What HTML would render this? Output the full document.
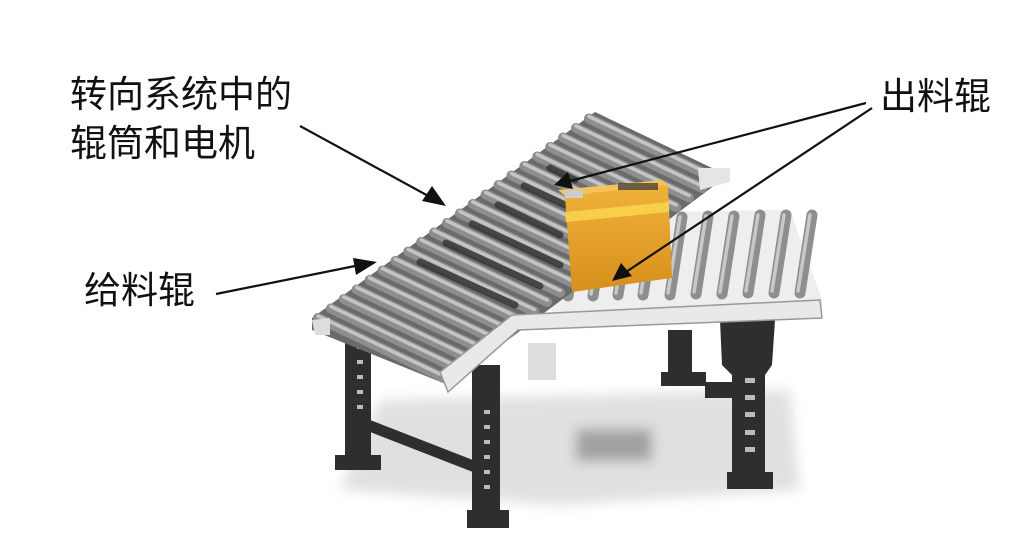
<!DOCTYPE html>
<html><head><meta charset="utf-8"><style>
body{margin:0;background:#fff;width:1032px;height:550px;overflow:hidden}
.t{position:absolute;font-family:"Liberation Sans","Noto Sans CJK SC",sans-serif;font-size:37px;color:#111;line-height:50px;white-space:nowrap}
</style></head><body>
<svg width="1032" height="550" style="position:absolute;left:0;top:0">
<defs>
<filter id="bl" x="-20%" y="-20%" width="140%" height="140%"><feGaussianBlur stdDeviation="6"/></filter>
<linearGradient id="box" x1="0" y1="0" x2="0" y2="1"><stop offset="0" stop-color="#f0b23a"/><stop offset="1" stop-color="#d68f1c"/></linearGradient>
<g id="ro">
<line x1="318" y1="318" x2="444" y2="378" stroke="#8e8e8e" stroke-width="10" stroke-linecap="round"/>
<line x1="318" y1="316" x2="444" y2="376" stroke="#c4c4c4" stroke-width="3.5" stroke-linecap="round"/>
</g>
<g id="ro2">
<line x1="0" y1="0" x2="-12" y2="78" stroke="#8e8e8e" stroke-width="11" stroke-linecap="round"/>
<line x1="-2" y1="0" x2="-14" y2="76" stroke="#c8c8c8" stroke-width="3.5" stroke-linecap="round"/>
</g>
</defs>
<!-- shadow -->
<g filter="url(#bl)" opacity="0.55">
<polygon points="380,400 790,390 800,490 560,505 340,490" fill="#c8c8c8"/>
<rect x="575" y="428" width="78" height="34" fill="#555"/>
</g>
<!-- legs -->
<g fill="#2e2e2e">
<rect x="345" y="333" width="26" height="130"/><rect x="335" y="455" width="46" height="15"/>
<polygon points="365,418 478,462 478,474 365,430"/>
<rect x="472" y="365" width="28" height="150"/><rect x="467" y="510" width="42" height="18"/>
<rect x="668" y="330" width="24" height="48"/><rect x="661" y="372" width="45" height="14"/>
<polygon points="720,320 775,320 772,365 765,375 765,478 732,478 732,375 722,365"/><rect x="727" y="472" width="46" height="17"/>
<rect x="705" y="382" width="30" height="16"/>
</g>
<g fill="#bbb"><rect x="357" y="345" width="6" height="4"/><rect x="357" y="360" width="6" height="4"/><rect x="357" y="375" width="6" height="4"/><rect x="357" y="390" width="6" height="4"/><rect x="357" y="405" width="6" height="4"/>
<rect x="484" y="410" width="6" height="4"/><rect x="484" y="425" width="6" height="4"/><rect x="484" y="440" width="6" height="4"/><rect x="484" y="455" width="6" height="4"/><rect x="484" y="470" width="6" height="4"/><rect x="484" y="485" width="6" height="4"/>
<rect x="745" y="378" width="10" height="5"/><rect x="745" y="395" width="10" height="5"/><rect x="745" y="412" width="10" height="5"/><rect x="745" y="430" width="10" height="5"/><rect x="745" y="447" width="10" height="5"/></g>
<rect x="528" y="343" width="28" height="37" fill="#ddd"/>
<!-- output conveyor -->
<polygon points="660,212 790,210 822,300 822,318 560,325 545,300" fill="#eeeeee"/>
<use href="#ro2" x="580" y="218"/><use href="#ro2" x="605" y="218"/><use href="#ro2" x="630" y="217"/><use href="#ro2" x="655" y="217"/>
<use href="#ro2" x="682" y="217"/><use href="#ro2" x="708" y="216"/><use href="#ro2" x="734" y="216"/><use href="#ro2" x="760" y="215"/><use href="#ro2" x="786" y="215"/><use href="#ro2" x="812" y="215"/>
<!-- main conveyor -->
<polygon points="312,318 595,112 712,168 715,185 448,385 312,330" fill="#6a6a6a"/>
<use href="#ro" x="0" y="0"/><use href="#ro" x="12.9" y="-9.5"/><use href="#ro" x="25.8" y="-19"/><use href="#ro" x="38.7" y="-28.5"/><use href="#ro" x="51.6" y="-38"/><use href="#ro" x="64.5" y="-47.5"/>
<use href="#ro" x="77.4" y="-57"/><use href="#ro" x="90.3" y="-66.5"/><use href="#ro" x="103.2" y="-76"/><use href="#ro" x="116.1" y="-85.5"/><use href="#ro" x="129" y="-95"/><use href="#ro" x="141.9" y="-104.5"/>
<use href="#ro" x="154.8" y="-114"/><use href="#ro" x="167.7" y="-123.5"/><use href="#ro" x="180.6" y="-133"/><use href="#ro" x="193.5" y="-142.5"/><use href="#ro" x="206.4" y="-152"/><use href="#ro" x="219.3" y="-161.5"/>
<use href="#ro" x="232.2" y="-171"/><use href="#ro" x="245.1" y="-180.5"/><use href="#ro" x="258" y="-190"/><use href="#ro" x="270.9" y="-199.5"/>
<!-- dark motor rollers -->
<g stroke="#333" stroke-width="7" stroke-linecap="round" opacity="0.8">
<line x1="420" y1="262" x2="515" y2="305"/><line x1="446" y1="243" x2="540" y2="286"/><line x1="472" y1="224" x2="560" y2="265"/><line x1="498" y1="205" x2="560" y2="235"/><line x1="524" y1="186" x2="565" y2="205"/><line x1="550" y1="168" x2="575" y2="180"/>
</g>
<!-- rail -->
<polygon points="440,372 512,315 820,300 822,318 518,330 448,392" fill="#e9e9e9" stroke="#999" stroke-width="1.5"/>
<polygon points="698,168 730,168 730,182 700,190" fill="#e5e5e5"/>
<polygon points="312,320 330,318 330,335 315,335" fill="#ddd"/>
<!-- box -->
<polygon points="558,190 662,180 668,185 565,196" fill="#f6c35a"/>
<polygon points="565,196 668,185 672,278 572,292" fill="url(#box)"/>
<polygon points="565,212 669,202 669,212 566,222" fill="#f7cf4a"/>
<rect x="618" y="183" width="40" height="7" fill="#333" opacity="0.7"/>
<rect x="565" y="190" width="18" height="8" fill="#ccc"/>
<!-- arrows -->
<g stroke="#111" stroke-width="2.2" fill="#111">
<line x1="300" y1="126" x2="432" y2="198"/><polygon points="446,206 422,201 432,186" stroke="none"/>
<line x1="216" y1="294" x2="360" y2="265"/><polygon points="377,262 356,275 353,258" stroke="none"/>
<line x1="866" y1="103" x2="570" y2="181"/><polygon points="554,185 568,172 573,189" stroke="none"/>
<line x1="872" y1="108" x2="626" y2="272"/><polygon points="612,281 621,263 632,276" stroke="none"/>
</g>
</svg>
<div class="t" style="left:70px;top:70px">转向系统中的</div>
<div class="t" style="left:70px;top:119px">辊筒和电机</div>
<div class="t" style="left:84px;top:266px">给料辊</div>
<div class="t" style="left:880px;top:72px">出料辊</div>
</body></html>
